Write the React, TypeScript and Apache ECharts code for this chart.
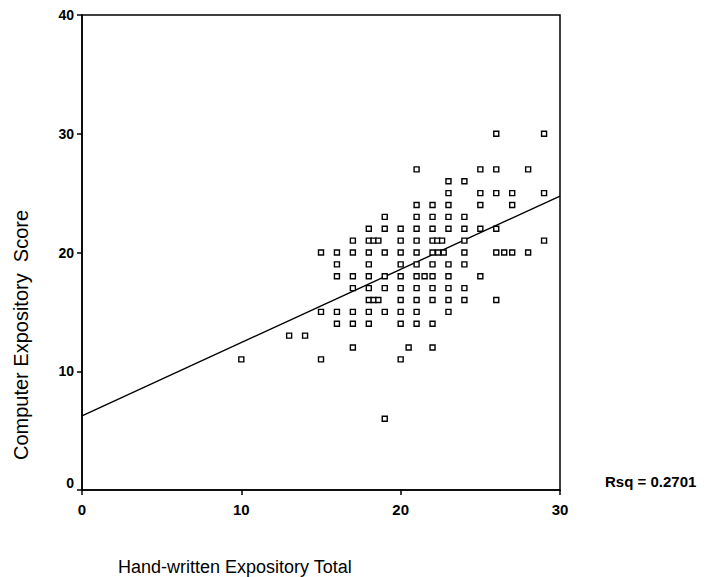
import React, { useEffect, useRef } from "react";
import * as echarts from "echarts";

// Hand-written total (x) and computer score (y), one entry per point
const handWritten: number[] = [
  26, 29,
  21, 25, 26, 28,
  23, 24,
  23, 25, 26, 27, 29,
  21, 22, 23, 25, 27,
  19, 21, 22, 23, 24,
  18, 19, 20, 21, 22, 23, 24, 25, 26,
  17, 18, 18.3, 18.6, 20, 21, 22, 22.3, 22.6, 24, 29,
  15, 16, 17, 18, 19, 20, 21, 22, 22.35, 22.7, 24, 26, 26.5, 27, 28,
  16, 18, 20, 21, 22, 23, 24,
  16, 17, 18, 19, 20, 21, 21.5, 22, 23, 25,
  17, 18, 19, 20, 21, 22, 23, 24,
  18, 18.3, 18.6, 20, 21, 22, 23, 24, 26,
  15, 16, 17, 18, 19, 20, 21, 23,
  16, 17, 18, 20, 21, 22,
  13, 14,
  17, 20.5, 22,
  10, 15, 20,
  19,
];
const computerScore: number[] = [
  30, 30,
  27, 27, 27, 27,
  26, 26,
  25, 25, 25, 25, 25,
  24, 24, 24, 24, 24,
  23, 23, 23, 23, 23,
  22, 22, 22, 22, 22, 22, 22, 22, 22,
  21, 21, 21, 21, 21, 21, 21, 21, 21, 21, 21,
  20, 20, 20, 20, 20, 20, 20, 20, 20, 20, 20, 20, 20, 20, 20,
  19, 19, 19, 19, 19, 19, 19,
  18, 18, 18, 18, 18, 18, 18, 18, 18, 18,
  17, 17, 17, 17, 17, 17, 17, 17,
  16, 16, 16, 16, 16, 16, 16, 16, 16,
  15, 15, 15, 15, 15, 15, 15, 15,
  14, 14, 14, 14, 14, 14,
  13, 13,
  12, 12, 12,
  11, 11, 11,
  6,
];
// Fit line endpoints
const fitX: number[] = [0, 30];
const fitY: number[] = [6.25, 24.75];
const xTicks: number[] = [0, 10, 20, 30];
const yTicks: number[] = [0, 10, 20, 30, 40];
const rsqText = "Rsq = 0.2701";
const xTitle = "Hand-written Expository Total";
const yTitle = "Computer Expository  Score";

export default function App() {
  const ref = useRef<HTMLDivElement>(null);
  useEffect(() => {
    if (!ref.current) return;
    const chart = echarts.init(ref.current, undefined, { renderer: "svg" });
    const font = "Arial, 'Liberation Sans', Helvetica, sans-serif";
    chart.setOption({
      animation: false,
      backgroundColor: "#ffffff",
      grid: {
        left: 82,
        top: 15,
        width: 478,
        height: 475,
        show: true,
        borderColor: "#000",
        borderWidth: 1.5,
        backgroundColor: "transparent",
      },
      xAxis: {
        type: "value",
        min: xTicks[0],
        max: xTicks[xTicks.length - 1],
        interval: 10,
        axisLine: { show: true, lineStyle: { color: "#000", width: 1.5 } },
        axisTick: { show: true, length: 5, lineStyle: { color: "#000", width: 1.5 } },
        splitLine: { show: false },
        axisLabel: { color: "#000", fontSize: 15, fontWeight: "bold", fontFamily: font, margin: 12 },
      },
      yAxis: {
        type: "value",
        min: yTicks[0],
        max: yTicks[yTicks.length - 1],
        interval: 10,
        axisLine: { show: true, lineStyle: { color: "#000", width: 1.5 } },
        axisTick: { show: true, length: 5, lineStyle: { color: "#000", width: 1.5 } },
        splitLine: { show: false },
        axisLabel: {
          color: "#000",
          fontSize: 14,
          fontWeight: "bold",
          fontFamily: font,
          margin: 8,
          formatter: (v: number) => (v === 0 ? "{z|0}" : String(v)),
          rich: {
            z: { color: "#000", fontSize: 14, fontWeight: "bold", fontFamily: font, padding: [0, 0, 14, 0] },
          },
        },
      },
      series: [
        {
          type: "scatter",
          data: handWritten.map((x, i) => [x, computerScore[i]]),
          symbol: "rect",
          symbolSize: 5,
          itemStyle: { color: "#fff", borderColor: "#000", borderWidth: 1.4, opacity: 1 },
          z: 3,
        },
        {
          type: "line",
          data: fitX.map((x, i) => [x, fitY[i]]),
          symbol: "none",
          lineStyle: { color: "#000", width: 1.4 },
          z: 2,
        },
      ],
      graphic: [
        {
          type: "text",
          left: 118,
          top: 558,
          style: { text: xTitle, fill: "#000", fontSize: 18, fontFamily: font },
        },
        {
          type: "text",
          x: 21,
          y: 335,
          rotation: Math.PI / 2,
          style: {
            text: yTitle,
            fill: "#000",
            fontSize: 20,
            fontFamily: font,
            align: "center",
            verticalAlign: "middle",
          },
        },
        {
          type: "text",
          left: 605,
          top: 474,
          style: { text: rsqText, fill: "#000", fontSize: 15, fontWeight: "bold", fontFamily: font },
        },
      ],
    });
    return () => chart.dispose();
  }, []);
  return (
    <div
      ref={ref}
      style={{ position: "fixed", left: 0, top: 0, width: 708, height: 577, background: "#fff" }}
    />
  );
}
